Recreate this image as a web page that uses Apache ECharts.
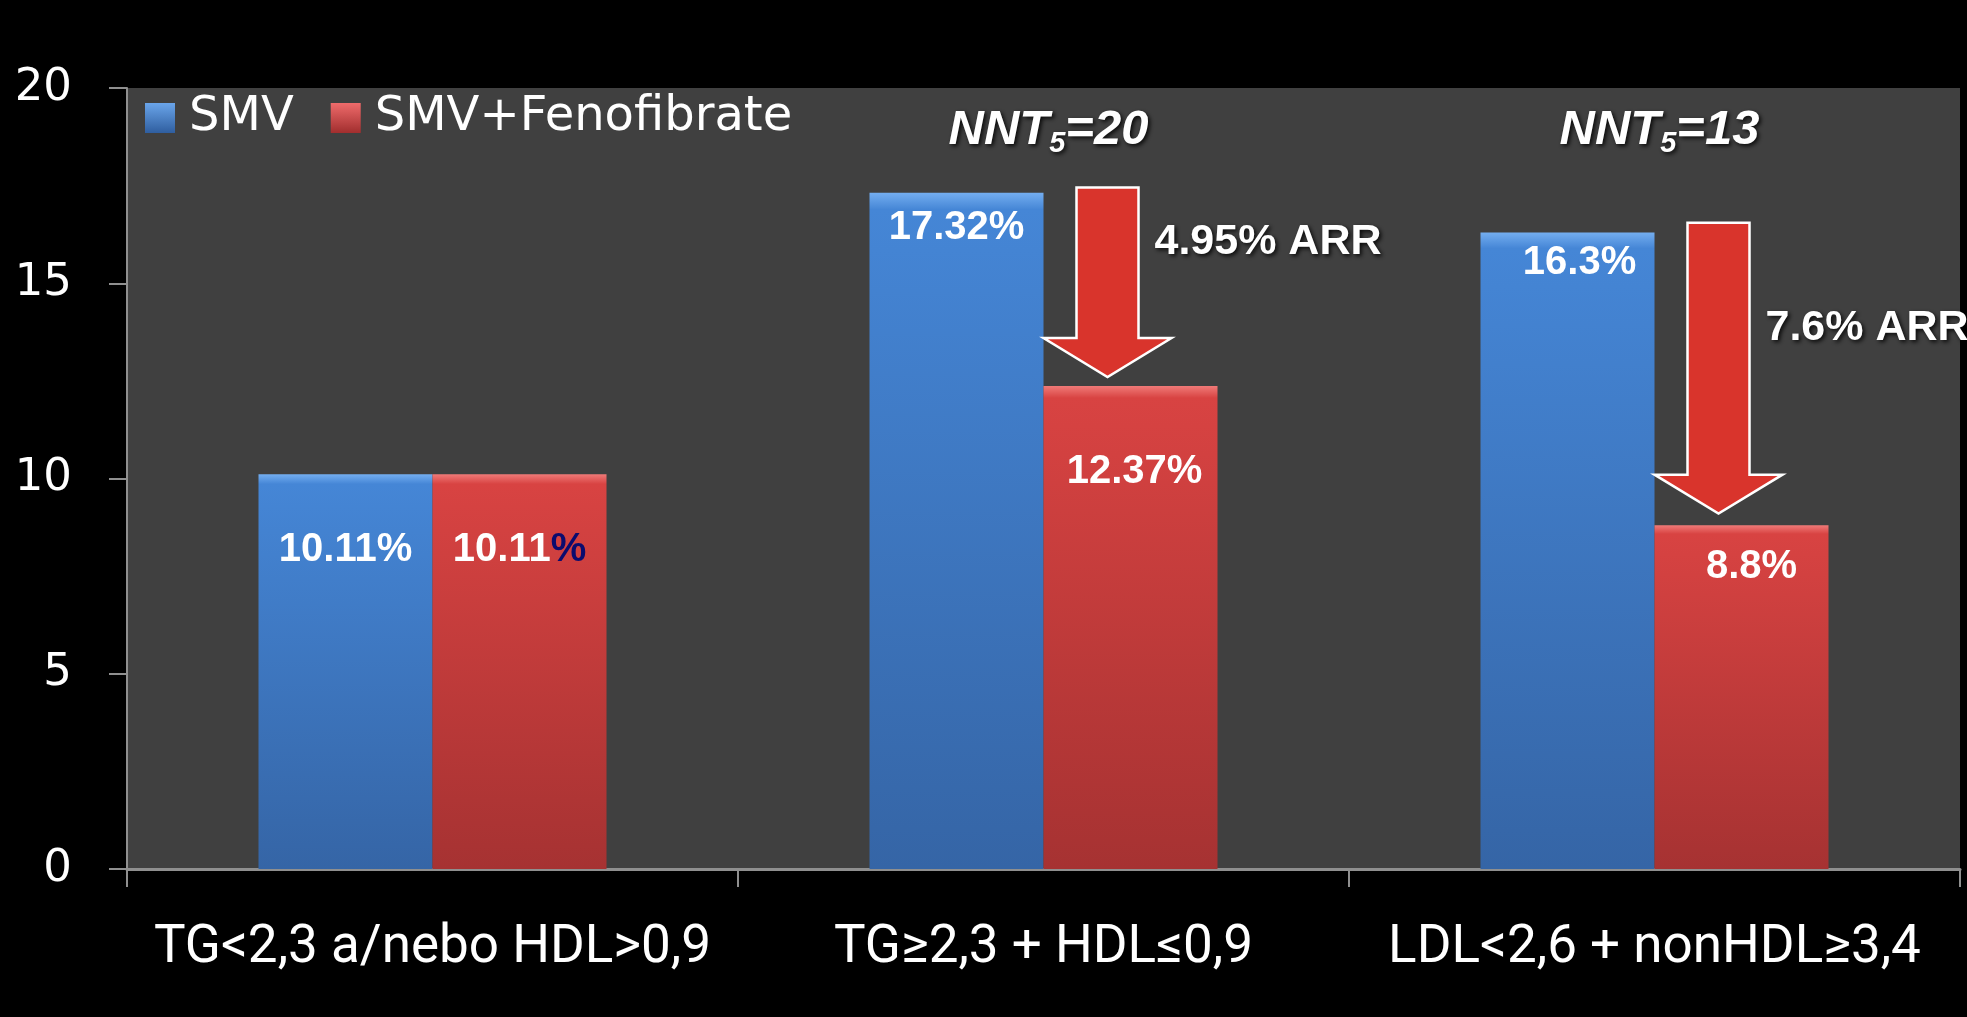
<!DOCTYPE html>
<html>
<head>
<meta charset="utf-8">
<script src="https://cdn.jsdelivr.net/npm/echarts@6/dist/echarts.min.js"></script>
<style>
  html, body { margin: 0; padding: 0; background: #000; }
  #chart { width: 1967px; height: 1017px; }
</style>
</head>
<body>
<div id="chart"></div>
<script>
// categories and values
const categories = ["TG<2,3 a/nebo HDL>0,9", "TG≥2,3 + HDL≤0,9", "LDL<2,6 + nonHDL≥3,4"];
const smv = [10.11, 17.32, 16.3];
const smvFeno = [10.11, 12.37, 8.8];
const yMin = 0;
const yMax = 20;
const yStep = 5;

// annotations: arrow from / to (axis values), ARR text, NNT text
const arrowFrom = [null, 17.45, 16.55];
const arrowTo = [null, 12.6, 9.1];
const arrText = ["", "4.95% ARR", "7.6% ARR"];
const arrTextAt = [null, 16.05, 13.85];
const nnt = [null, "20", "13"];
const nntAt = 18.9;

// label placement (px below bar top, px sideways)
const labelDrop = [[76, 35, 30], [76, 86, 42]];
const labelShift = [[0, 0, 12], [0, 4, 10]];

const blueFill = new echarts.graphic.LinearGradient(0, 0, 0, 1, [
  { offset: 0, color: "#74aef0" },
  { offset: 0.025, color: "#4586d6" },
  { offset: 1, color: "#3565a6" }
]);
const redFill = new echarts.graphic.LinearGradient(0, 0, 0, 1, [
  { offset: 0, color: "#f07a78" },
  { offset: 0.025, color: "#d84342" },
  { offset: 1, color: "#a63232" }
]);
const blueIcon = new echarts.graphic.LinearGradient(0, 0, 0, 1, [
  { offset: 0, color: "#6aa5ea" },
  { offset: 1, color: "#2f5e9f" }
]);
const redIcon = new echarts.graphic.LinearGradient(0, 0, 0, 1, [
  { offset: 0, color: "#ef6b6b" },
  { offset: 1, color: "#a12e2e" }
]);

const labelFont = { fontFamily: "Liberation Sans", fontWeight: "bold", fontSize: 40, color: "#fff" };

function barData(values, s) {
  return values.map(function (v, i) {
    return {
      value: v,
      label: { position: ["50%", labelDrop[s][i]], offset: [labelShift[s][i], 0] }
    };
  });
}

const myChart = echarts.init(document.getElementById("chart"));

const option = {
  backgroundColor: "#000",
  animation: false,
  grid: {
    left: 127,
    right: 7,
    top: 88,
    bottom: 148,
    show: true,
    backgroundColor: "#404040",
    borderWidth: 0,
    outerBoundsMode: "none"
  },
  legend: {
    left: 145,
    top: 94,
    padding: 0,
    itemWidth: 30,
    itemHeight: 30,
    itemGap: 37,
    icon: "rect",
    data: [
      { name: "SMV", itemStyle: { color: blueIcon } },
      { name: "SMV+Fenofibrate", itemStyle: { color: redIcon } }
    ],
    textStyle: { color: "#fff", fontFamily: "DejaVu Sans", fontSize: 48, padding: [0, 0, 0, 9] }
  },
  xAxis: {
    type: "category",
    data: categories,
    axisLine: { show: true, lineStyle: { color: "#8f8f8f", width: 3 } },
    axisTick: { show: true, length: 18, lineStyle: { color: "#8f8f8f", width: 2 } },
    axisLabel: { color: "#fff", fontFamily: "Roboto", fontSize: 53, margin: 53, interval: 0 },
    splitLine: { show: false }
  },
  yAxis: {
    type: "value",
    min: yMin,
    max: yMax,
    interval: yStep,
    axisLine: { show: true, lineStyle: { color: "#8f8f8f", width: 2 } },
    axisTick: { show: true, length: 18, lineStyle: { color: "#8f8f8f", width: 2 } },
    axisLabel: { color: "#fff", fontFamily: "DejaVu Sans", fontSize: 45, margin: 55 },
    splitLine: { show: false }
  },
  series: [
    {
      name: "SMV",
      type: "bar",
      data: barData(smv, 0),
      barWidth: 174,
      barGap: "0%",
      itemStyle: { color: blueFill },
      label: Object.assign({
        show: true,
        align: "center",
        verticalAlign: "middle",
        formatter: function (p) { return p.value + "%"; }
      }, labelFont)
    },
    {
      name: "SMV+Fenofibrate",
      type: "bar",
      data: barData(smvFeno, 1),
      barWidth: 174,
      barGap: "0%",
      itemStyle: { color: redFill },
      label: Object.assign({
        show: true,
        align: "center",
        verticalAlign: "middle",
        // first label has a navy percent sign in the original
        formatter: function (p) {
          return p.dataIndex === 0 ? "{v|" + p.value + "}{n|%}" : "{v|" + p.value + "%}";
        },
        rich: {
          v: labelFont,
          n: Object.assign({}, labelFont, { color: "#0b0b6e" })
        }
      }, labelFont)
    },
    {
      name: "notes",
      type: "custom",
      data: categories.map(function (c, i) { return [i, arrowFrom[i], arrowTo[i], arrTextAt[i]]; }),
      renderItem: function (params, api) {
        const i = params.dataIndex;
        if (arrowFrom[i] == null) return null;
        const top = api.coord([i, api.value(1)]);
        const tip = api.coord([i, api.value(2)]);
        const textY = api.coord([i, api.value(3)])[1];
        const nntY = api.coord([i, nntAt])[1];
        const cx = top[0] + 64;
        const hw = 31, headW = 64, headH = 39;
        const shadow = {
          textShadowColor: "rgba(0,0,0,0.85)",
          textShadowBlur: 4,
          textShadowOffsetX: 2,
          textShadowOffsetY: 2
        };
        return {
          type: "group",
          children: [
            {
              type: "polygon",
              shape: {
                points: [
                  [cx - hw, top[1]], [cx + hw, top[1]], [cx + hw, tip[1] - headH],
                  [cx + headW, tip[1] - headH], [cx, tip[1]], [cx - headW, tip[1] - headH],
                  [cx - hw, tip[1] - headH]
                ]
              },
              style: { fill: "#d9342c", stroke: "#fff", lineWidth: 2.5, lineJoin: "miter" }
            },
            {
              type: "text",
              style: Object.assign({
                x: cx + hw + 16,
                y: textY,
                text: arrText[i],
                fill: "#fff",
                font: 'bold 43px "Liberation Sans"',
                align: "left",
                verticalAlign: "middle"
              }, shadow)
            },
            {
              type: "text",
              style: Object.assign({
                x: top[0] + 5,
                y: nntY,
                text: "{m|NNT}{s|5}{m|=" + nnt[i] + "}",
                align: "center",
                verticalAlign: "middle",
                rich: {
                  m: Object.assign({
                    fill: "#fff", fontFamily: "Liberation Sans", fontWeight: "bold",
                    fontStyle: "italic", fontSize: 49, lineHeight: 56, verticalAlign: "middle"
                  }, shadow),
                  s: Object.assign({
                    fill: "#fff", fontFamily: "Liberation Sans", fontWeight: "bold",
                    fontStyle: "italic", fontSize: 29, lineHeight: 24, verticalAlign: "bottom"
                  }, shadow)
                }
              }, shadow)
            }
          ]
        };
      },
      z: 5
    }
  ]
};

myChart.setOption(option);
</script>
</body>
</html>
